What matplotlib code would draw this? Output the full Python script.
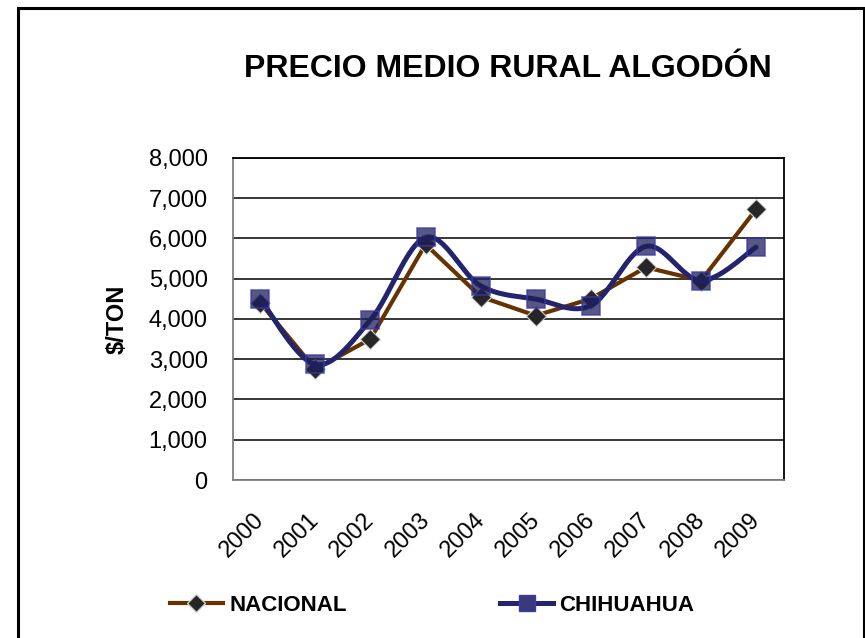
import matplotlib.pyplot as plt
import matplotlib.transforms as mtransforms
import numpy as np
from matplotlib.lines import Line2D
from matplotlib.patches import Rectangle


YEARS = ["2000", "2001", "2002", "2003", "2004", "2005", "2006", "2007", "2008", "2009"]
NACIONAL = [4400, 2750, 3500, 5850, 4550, 4080, 4500, 5280, 4950, 6720]
CHIHUAHUA = [4490, 2870, 3970, 6020, 4820, 4490, 4330, 5800, 4950, 5780]

BROWN = "#663300"
NAVY = "#23236e"
TEXT_COLOR = "#000000"

plt.rcParams["font.family"] = ["Liberation Sans", "DejaVu Sans"]


def smooth_curve(x, y, steps=30):
    # Excel-like smoothed line: cubic Bezier through each point
    x = np.asarray(x, dtype=float)
    y = np.asarray(y, dtype=float)
    px = np.concatenate([[x[0]], x, [x[-1]]])
    py = np.concatenate([[y[0]], y, [y[-1]]])
    xs, ys = [], []
    t = np.linspace(0, 1, steps)
    for i in range(1, len(x)):
        p0 = np.array([px[i], py[i]])
        p3 = np.array([px[i + 1], py[i + 1]])
        c1 = p0 + (p3 - np.array([px[i - 1], py[i - 1]])) / 6
        c2 = p3 - (np.array([px[i + 2], py[i + 2]]) - p0) / 6
        seg = ((1 - t) ** 3)[:, None] * p0 + (3 * (1 - t) ** 2 * t)[:, None] * c1 \
            + (3 * (1 - t) * t ** 2)[:, None] * c2 + (t ** 3)[:, None] * p3
        xs.extend(seg[:, 0])
        ys.extend(seg[:, 1])
    return np.array(xs), np.array(ys)


fig = plt.figure(figsize=(8.65, 6.38), dpi=100)
ax = fig.add_axes([0.269, 0.2476, 0.637, 0.5052])

x = np.arange(len(YEARS))

ax.plot(x, NACIONAL, color=BROWN, linewidth=3.0, solid_joinstyle="round",
        solid_capstyle="round", zorder=3)
ax.plot(x, NACIONAL, linestyle="none", marker="D", markersize=10,
        markerfacecolor="#262626", markeredgecolor="#d0d0d0", markeredgewidth=0.8, zorder=4)

sx, sy = smooth_curve(x, CHIHUAHUA)
ax.plot(sx, sy, color=NAVY, linewidth=3.6, solid_capstyle="round", zorder=5)
ax.plot(x, CHIHUAHUA, linestyle="none", marker="s", markersize=13,
        markerfacecolor="#1f1f5a", markeredgecolor="#3a3ab0", markeredgewidth=1.2,
        alpha=0.75, zorder=6)

ax.set_xlim(-0.5, len(YEARS) - 0.5)
ax.set_ylim(0, 8000)
ax.set_yticks(np.arange(0, 8001, 1000))
ax.set_yticklabels([f"{v:,}" for v in range(0, 8001, 1000)])
ax.set_xticks(x)
ax.set_xticklabels(YEARS, rotation=45, ha="right", va="top", rotation_mode="anchor")
ax.tick_params(axis="y", length=0, pad=18, labelsize=17)
ax.tick_params(axis="x", length=0, pad=14, labelsize=17)
shift = mtransforms.ScaledTranslation(-7 / 100, -9 / 100, fig.dpi_scale_trans)
for label in ax.get_xticklabels():
    label.set_transform(label.get_transform() + shift)

ax.grid(axis="y", color="#000000", linewidth=1.1)
ax.set_axisbelow(True)
ax.spines["top"].set_color("#000000")
ax.spines["right"].set_color("#000000")
ax.spines["left"].set_color("#808080")
ax.spines["bottom"].set_color("#808080")
for side in ["top", "right", "left", "bottom"]:
    ax.spines[side].set_linewidth(1.3)

ax.set_ylabel("$/TON", fontsize=17, fontweight="bold")
ax.yaxis.set_label_coords(-0.188, 0.5)

fig.text(0.5867, 1 - 77 / 638, "PRECIO MEDIO RURAL ALGODÓN", ha="center", va="baseline",
         fontsize=23, fontweight="bold", color=TEXT_COLOR)

handles = [
    Line2D([], [], color=BROWN, linewidth=3.0, marker="D", markersize=9,
           markerfacecolor="#262626", markeredgecolor="#d0d0d0"),
    Line2D([], [], color=NAVY, linewidth=3.6, marker="s", markersize=11,
           markerfacecolor="#3a3a78", markeredgecolor="#3a3ab0"),
]
fig.legend(handles, ["NACIONAL", "CHIHUAHUA"], loc="center",
           bbox_to_anchor=(0.4994, 0.051), ncol=2, frameon=False,
           handlelength=2.4, handletextpad=0.27, columnspacing=6.9,
           prop={"weight": "bold", "size": 16})

fig.patches.append(Rectangle((17.5 / 865, -0.02), (864 - 17.5) / 865, 1 - 7.5 / 638 + 0.02,
                             transform=fig.transFigure, fill=False,
                             edgecolor="#000000", linewidth=2.2))

fig.savefig("out.png", dpi=100)
